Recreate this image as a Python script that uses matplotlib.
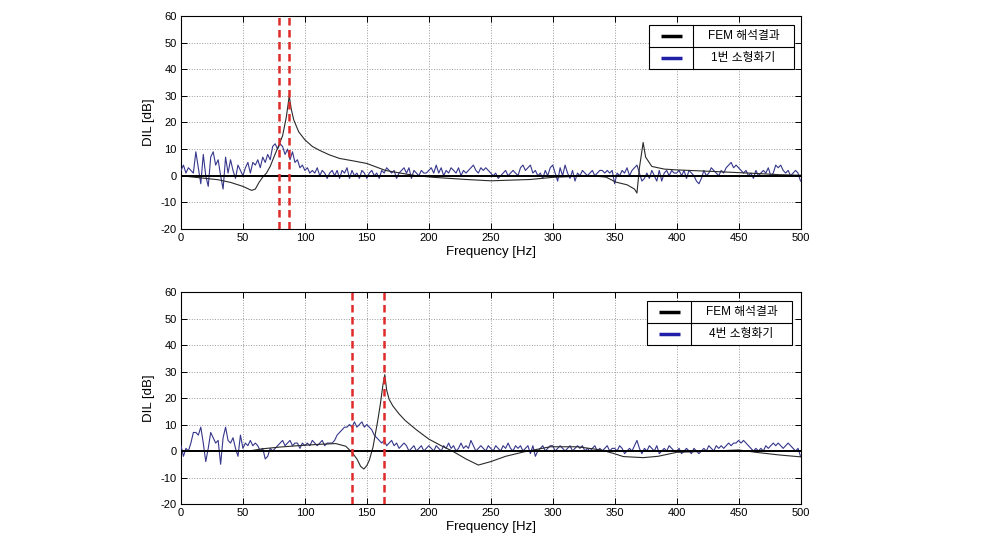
import numpy as np
import matplotlib
matplotlib.use("Agg")
import matplotlib.pyplot as plt
from matplotlib.patches import Rectangle

plt.rcParams['font.family'] = ['Liberation Sans', 'Noto Sans CJK KR']
plt.rcParams['axes.unicode_minus'] = False

# measured DIL, 2 Hz steps from 0 to 500 Hz
meas_freq = np.arange(0, 501, 2)

meas1 = [
    2, 4, 1, 3, 2, 1, 9, 3, -3, 8, 0, -4, 7, 9, 4, 6, 0, -5, 7, 1, 6, 2, -1, 4, 2,
    0, 3, 5, 1, 5, 4, 6, 3, 7, 5, 8, 6, 11, 12, 10, 12, 11, 8, 10, 6, 9, 5, 6, 3, 4,
    2, 3, 1, 2, 1, 3, 0, 2, 1, -1, 1, 2, 0, 2, -1, 2, 1, 3, -1, 2, 0, 1, -1, 2, 1,
    -1, 1, 2, 0, 1, -1, 2, 1, 3, 2, 1, 2, -1, 1, 2, 3, 1, 3, -1, 2, 1, 0, 2, 1, 1,
    2, 3, 1, 4, 1, 3, 0, 2, 1, 3, 2, 1, 3, 0, 2, 1, 2, 3, 4, 2, 1, 3, 2, 3, 2,
    1, 0, 1, -1, 0, 1, 2, 0, 1, 2, 1, 0, 3, 4, 2, 3, 4, 1, 2, 0, 1, -1, 2, 0, 3,
    4, 1, -2, 3, 0, 4, 1, -1, 2, -2, 1, 0, 2, 1, 0, 1, 2, 0, 1, 2, 2, 1, 2, 1, 2,
    -3, 1, 0, 2, 1, 3, 0, 2, 3, 4, 1, -2, -1, 1, -1, 2, 0, -2, 2, -2, 1, 2, 0, 2, 1,
    1, 2, 0, 2, -1, 2, 1, 0, -2, -3, -1, 2, 0, 1, 3, 2, 1, 0, 2, 1, 3, 4, 5, 3, 4,
    3, 2, 1, 2, 0, 1, -1, 2, 0, 1, 2, 1, 3, 0, 1, 4, 3, 4, 2, 1, 2, 0, 1, 2, 1,
    -2,
]

meas4 = [
    2, -2, 1, 0, 3, 7, 7, 6, 9, 3, -4, 1, 7, 5, 3, 4, -5, 5, 9, 4, 3, 5, 1, -2, 6,
    1, 3, 2, 4, 2, 3, 2, 0, 1, -3, -2, 1, 0, 1, 2, 3, 4, 2, 3, 4, 2, 3, 3, 1, 3,
    2, 3, 2, 4, 3, 2, 3, 4, 2, 3, 3, 3, 4, 6, 7, 8, 9, 9, 10, 9, 11, 9, 10, 11, 9,
    10, 9, 8, 6, 5, 4, 3, 4, 2, 3, 4, 2, 3, 1, 2, 3, 2, 0, 1, 2, 0, 1, 2, 0, 1,
    2, 1, 0, 2, 1, 0, 2, 1, 3, 1, 2, 0, 1, 3, 1, 2, 1, 4, 2, 0, 1, 2, 1, 0, 2,
    1, 0, 2, 1, 0, 2, 1, 3, 1, 0, 2, 1, 2, 0, 1, 2, -1, 2, -2, 0, 1, 2, 0, 1, 2,
    2, 0, 1, 2, 1, 0, 1, 2, 0, 1, 2, 1, 2, 0, 1, 0, 1, 2, 0, 1, 0, 1, 2, 0, 1,
    1, 0, 2, 1, -1, 0, 1, 0, 2, 4, 1, -1, 1, 0, 2, 1, 0, 2, -1, 0, 1, 0, 2, 1, 0,
    0, 1, -1, 0, 1, 0, -1, 1, 0, -1, 0, 1, 0, 2, 1, 0, 2, 1, 2, 1, 2, 3, 2, 3, 3,
    4, 3, 4, 3, 2, 1, 0, 1, 0, 1, 0, 2, 1, 2, 3, 2, 3, 2, 1, 2, 3, 2, 1, 0, 1,
    -2,
]

# FEM results
fem1_freq = [0, 10, 20, 30, 40, 50, 57, 60, 63, 66, 69, 72, 75, 79, 82, 85, 87.4,
             89, 91, 95, 100, 106, 112, 120, 128, 140, 150, 165, 177, 190, 204,
             230, 250, 282, 300, 330, 343, 351, 360, 366, 368, 370, 373, 375, 380,
             390, 400, 430, 458, 483, 500]
fem1_dil = [0, -0.5, -1, -1.5, -2.5, -4, -5.5, -5, -2.5, -0.5, 1, 3.5, 7, 11.5, 15,
            22, 30, 25, 21, 16.5, 13.5, 11, 9.5, 7.8, 6.5, 5.5, 4.6, 2, 1, 0, -0.6,
            -1.4, -1.9, -1.4, -0.6, 0, -0.5, -2.4, -3.4, -5, -6.5, 3, 12.5, 7, 3.5,
            2.5, 2.2, 1.6, 1, 0.4, 0.2]

fem4_freq = [0, 40, 55, 65, 80, 100, 115, 125, 133, 138, 142, 145, 147.6, 150, 152,
             155, 157, 159, 161, 163, 164.5, 166, 168, 171, 176, 181, 190, 200, 210,
             219, 230, 240, 250, 262, 277, 298, 320, 339, 349, 357, 373, 385, 400,
             430, 450, 464, 483, 500]
fem4_dil = [0, 0, 0, 0.8, 1.5, 2.2, 2.6, 2.8, 1.8, -0.5, -3, -5.8, -6.8, -5.5, -3.5,
            1.5, 6.8, 12, 18, 25, 28.8, 23, 19.5, 17, 14, 11.5, 8, 4.5, 2, 0, -3,
            -5.3, -4, -2, -0.3, 1.6, 1.6, 0.4, -0.9, -2.1, -2.5, -2, -0.5, 0, 0.4,
            -0.5, -1.5, -2.2]

peaks1 = [79.5, 87.5]
peaks4 = [138, 164]

legend_fem = "FEM 해석결과"
legend1 = "1번 소형화기"
legend4 = "4번 소형화기"

fig = plt.figure(figsize=(9.9, 5.46), dpi=100)
ax1 = fig.add_axes([0.1828, 0.5806, 0.6258, 0.3901])
ax2 = fig.add_axes([0.1828, 0.0769, 0.6258, 0.3883])


def draw_legend(ax, x0, x1, xd, y0, y1, ym, label):
    ax.add_patch(Rectangle((x0, y0), x1 - x0, y1 - y0, transform=ax.transAxes,
                           facecolor='white', edgecolor='black', lw=0.8, zorder=10))
    ax.plot([xd, xd], [y0, y1], transform=ax.transAxes, color='black', lw=0.8, zorder=11)
    ax.plot([x0, x1], [ym, ym], transform=ax.transAxes, color='black', lw=0.8, zorder=11)
    sx0 = x0 + 0.02
    sx1 = xd - 0.017
    ax.plot([sx0, sx1], [(ym + y1) / 2] * 2, transform=ax.transAxes,
            color='black', lw=2.5, zorder=12, solid_capstyle='butt')
    ax.plot([sx0, sx1], [(ym + y0) / 2] * 2, transform=ax.transAxes,
            color='#1f1fa8', lw=2.5, zorder=12, solid_capstyle='butt')
    xc = (xd + x1) / 2
    ax.text(xc, (ym + y1) / 2, legend_fem, transform=ax.transAxes, ha='center',
            va='center', fontsize=8.5, zorder=12)
    ax.text(xc, (ym + y0) / 2, label, transform=ax.transAxes, ha='center',
            va='center', fontsize=8.5, zorder=12)


for ax, meas, ff, fv, peaks in [(ax1, meas1, fem1_freq, fem1_dil, peaks1),
                                 (ax2, meas4, fem4_freq, fem4_dil, peaks4)]:
    ax.plot(meas_freq, meas, color='#36368c', lw=0.8, zorder=3)
    ax.plot(ff, fv, color='#2a2a2a', lw=0.8, zorder=4)
    ax.axhline(0, color='black', lw=1.4, zorder=5)
    for p in peaks:
        ax.axvline(p, color='#dd2a2a', lw=1.8, linestyle=(0, (3, 1.8)), zorder=6)
    ax.set_xlim(0, 500)
    ax.set_ylim(-20, 60)
    ax.set_xticks(np.arange(0, 501, 50))
    ax.set_yticks(np.arange(-20, 61, 10))
    ax.grid(True, color='#9a9a9a', linestyle=':', lw=0.7)
    ax.tick_params(direction='in', length=4, width=0.7, labelsize=8,
                   top=True, right=True, pad=3)
    for s in ax.spines.values():
        s.set_linewidth(0.8)
    ax.set_xlabel("Frequency [Hz]", fontsize=9.5, labelpad=2)
    ax.set_ylabel("DIL [dB]", fontsize=9.5, labelpad=4)

draw_legend(ax1, 0.7555, 0.9895, 0.8265, 0.7512, 0.9577, 0.8545, legend1)
draw_legend(ax2, 0.7522, 0.9863, 0.8228, 0.7500, 0.9575, 0.8523, legend4)

fig.savefig("out.png", dpi=100)
